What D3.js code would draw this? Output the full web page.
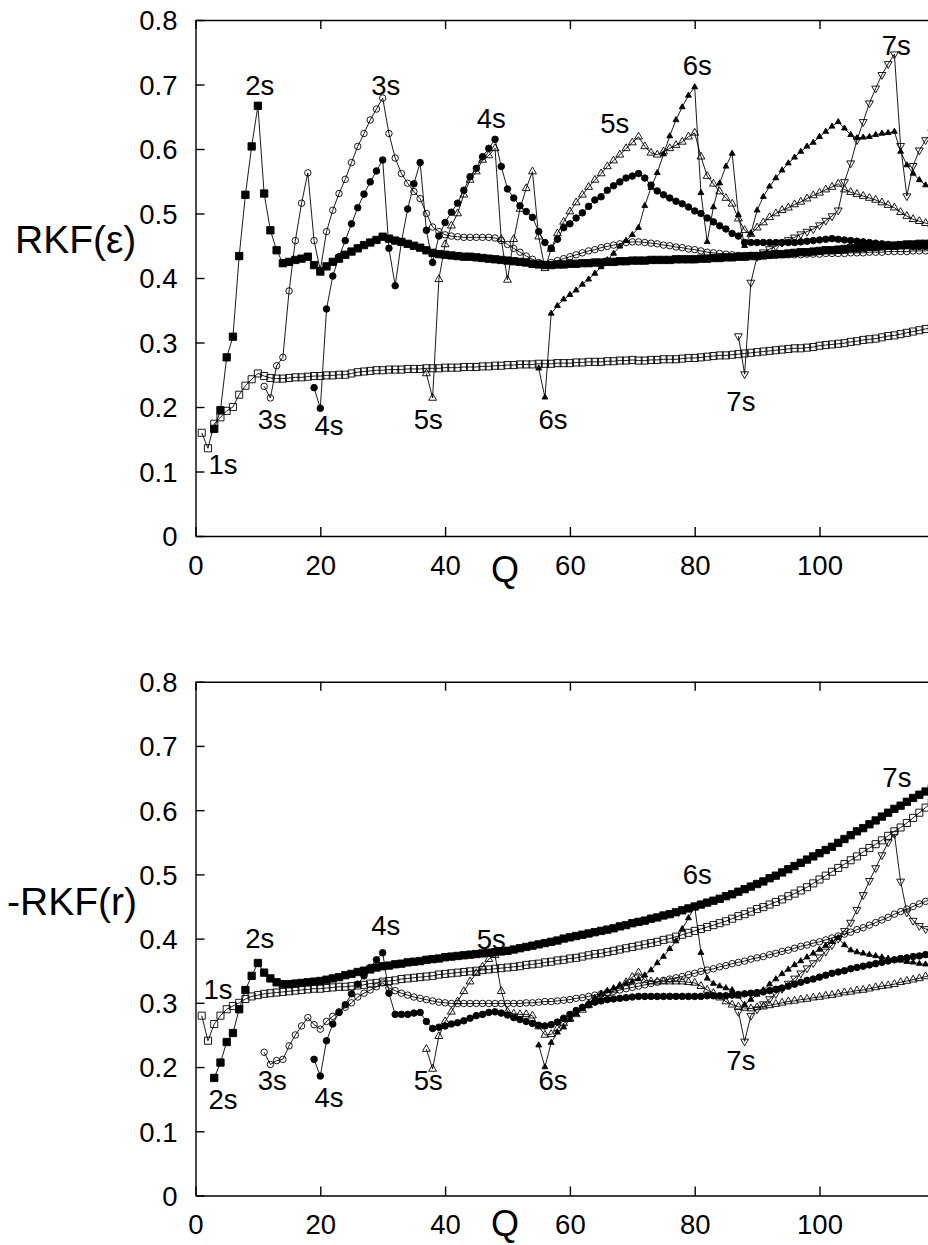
<!DOCTYPE html>
<html>
<head>
<meta charset="utf-8">
<script src="https://cdn.jsdelivr.net/npm/d3@7"></script>
<style>
  body { margin: 0; background: #fff; }
  svg { display: block; }
  text { font-family: "Liberation Sans", Arial, Helvetica, sans-serif; fill: #000; }
</style>
</head>
<body>
<div id="chart"></div>
<script>
// ---------- data, one value per integer Q ----------
// upper panel: RKF(eps)
const epsOpenSqStart = 1;
const epsOpenSq = [.160,.136,.174,.184,.194,.200,.219,.233,.243,.252,
  .248,.245,.244,.244,.245,.246,.246,.247,.248,.248,
  .249,.249,.250,.250,.252,.254,.255,.256,.257,.257,
  .258,.258,.258,.259,.259,.259,.260,.260,.260,.261,
  .261,.261,.262,.262,.262,.263,.263,.264,.264,.265,
  .265,.266,.266,.266,.267,.267,.267,.268,.268,.268,
  .269,.269,.270,.270,.270,.271,.271,.272,.272,.273,
  .272,.272,.273,.273,.274,.274,.274,.275,.276,.276,
  .277,.278,.279,.280,.280,.281,.282,.283,.284,.285,
  .286,.287,.288,.289,.290,.291,.291,.292,.293,.295,
  .296,.297,.298,.299,.301,.302,.304,.305,.306,.308,
  .310,.311,.313,.315,.317,.319,.321,.323];

const epsFillSqStart = 3;
const epsFillSq = [.166,.195,.277,.309,.434,.529,.604,.667,
  .531,.474,.443,.423,.425,.428,.430,.433,.420,.410,
  .418,.425,.430,.436,.441,.446,.451,.455,.459,.464,
  .461,.458,.456,.453,.450,.447,.443,.439,.437,.436,
  .435,.434,.433,.433,.432,.431,.430,.429,.428,.427,
  .426,.425,.424,.422,.421,.420,.420,.421,.421,.422,
  .422,.423,.423,.424,.424,.425,.425,.426,.426,.427,
  .427,.427,.428,.428,.428,.428,.429,.429,.429,.429,
  .430,.430,.431,.431,.432,.432,.433,.433,.434,.434,
  .435,.436,.437,.437,.438,.439,.440,.440,.441,.442,
  .443,.443,.444,.445,.446,.446,.447,.448,.448,.449,
  .450,.450,.451,.452,.452,.453,.453,.454];

const epsOpenCircStart = 11;
const epsOpenCirc = [.232,.214,.264,.277,.380,.458,.516,.563,.458,.412,
  .472,.505,.531,.553,.579,.604,.624,.645,.662,.679,
  .624,.586,.562,.547,.534,.523,.500,.479,.472,.467,
  .465,.464,.463,.463,.463,.463,.463,.462,.458,.452,
  .446,.440,.434,.429,.424,.421,.424,.427,.430,.433,
  .436,.439,.442,.444,.447,.449,.451,.453,.455,.456,
  .456,.455,.454,.453,.451,.450,.448,.447,.445,.444,
  .442,.440,.439,.438,.437,.436,.435,.435,.435,.435,
  .435,.435,.435,.436,.436,.436,.436,.437,.437,.437,
  .438,.438,.438,.438,.439,.439,.439,.440,.440,.440,
  .441,.441,.441,.441,.442,.442,.442,.443];

const epsFillCircStart = 19;
const epsFillCirc = [.230,.198,
  .352,.403,.433,.458,.484,.509,.530,.549,.566,.583,
  .446,.388,.456,.507,.546,.579,.474,.424,.465,.486,
  .502,.516,.536,.557,.570,.588,.601,.615,.573,.538,
  .524,.512,.503,.494,.472,.455,.446,.460,.478,.484,
  .493,.501,.511,.521,.526,.536,.543,.549,.555,.558,
  .562,.555,.544,.535,.529,.524,.519,.515,.510,.504,
  .500,.493,.487,.481,.476,.469,.465,.455,.455,.455,
  .455,.455,.455,.455,.455,.455,.456,.457,.458,.459,
  .460,.461,.460,.459,.458,.457,.456,.455,.454,.453,
  .452,.451,.450,.450,.449,.449,.449,.449];

const epsOpenTriStart = 37;
const epsOpenTri = [.252,.214,.398,.452,
  .481,.500,.529,.552,.565,.583,.590,.601,.460,.397,
  .460,.507,.539,.565,.464,.415,.445,.469,.487,.503,
  .517,.529,.541,.552,.562,.573,.582,.591,.601,.610,
  .619,.604,.594,.591,.596,.601,.606,.611,.619,.625,
  .588,.558,.546,.534,.524,.515,.492,.474,.468,.478,
  .486,.494,.500,.505,.509,.514,.518,.523,.528,.532,
  .537,.541,.546,.537,.533,.530,.527,.524,.521,.517,
  .513,.509,.502,.496,.491,.488,.485,.483];

const epsFillTriStart = 55;
const epsFillTri = [.260,.215,.345,.357,.367,.374,
  .381,.390,.398,.407,.417,.428,.438,.449,.458,.467,
  .478,.512,.540,.563,.592,.620,.645,.665,.683,.696,
  .532,.456,.510,.547,.573,.593,.498,.450,.469,.505,
  .526,.542,.555,.567,.578,.587,.596,.604,.610,.619,
  .627,.635,.642,.632,.622,.617,.618,.619,.622,.624,
  .625,.627,.596,.575,.562,.552,.544,.537];

const epsDownTriStart = 87;
const epsDownTri = [.310,.251,.393,.433,
  .440,.445,.449,.455,.459,.463,.468,.472,.476,.482,
  .489,.496,.505,.549,.578,.614,.642,.671,.694,.715,
  .732,.747,.605,.527,.574,.598,.614,.626];

// lower panel: -RKF(r)
const rOpenSqStart = 1;
const rOpenSq = [.280,.241,.267,.280,.290,.295,.300,.306,.310,.312,
  .314,.315,.316,.317,.318,.319,.320,.321,.322,.322,
  .323,.324,.325,.325,.326,.327,.328,.330,.331,.333,
  .334,.335,.337,.338,.339,.340,.341,.342,.344,.345,
  .346,.347,.348,.349,.350,.351,.352,.353,.354,.355,
  .356,.357,.359,.360,.361,.363,.364,.366,.367,.369,
  .370,.372,.374,.376,.377,.379,.381,.383,.385,.387,
  .389,.391,.393,.395,.398,.400,.403,.406,.409,.412,
  .415,.418,.421,.424,.427,.431,.435,.438,.442,.446,
  .449,.453,.457,.461,.466,.470,.475,.480,.486,.492,
  .498,.504,.510,.516,.522,.528,.535,.541,.547,.553,
  .560,.567,.573,.580,.588,.596,.604,.612];

const rFillSqStart = 3;
const rFillSq = [.183,.207,.239,.253,.290,.320,.342,.362,
  .347,.338,.332,.329,.329,.330,.331,.332,.333,.334,
  .336,.338,.340,.343,.345,.348,.350,.352,.355,.357,
  .358,.360,.361,.363,.364,.365,.367,.368,.369,.371,
  .372,.373,.374,.375,.376,.377,.378,.379,.380,.381,
  .383,.385,.387,.389,.391,.393,.395,.397,.400,.402,
  .404,.406,.408,.410,.412,.414,.416,.419,.421,.424,
  .426,.428,.431,.433,.436,.438,.441,.444,.447,.450,
  .453,.456,.459,.462,.466,.469,.473,.477,.481,.485,
  .489,.494,.498,.503,.508,.513,.518,.523,.528,.533,
  .538,.543,.549,.555,.561,.567,.572,.578,.584,.590,
  .596,.602,.607,.613,.619,.624,.629,.634];

const rOpenCircStart = 11;
const rOpenCirc = [.223,.204,.210,.212,.233,.250,.264,.277,.266,.259,
  .271,.279,.286,.293,.300,.309,.315,.320,.325,.331,
  .323,.319,.315,.312,.309,.307,.305,.303,.301,.300,
  .299,.299,.299,.299,.299,.299,.299,.299,.299,.299,
  .299,.299,.300,.300,.301,.302,.302,.303,.304,.305,
  .307,.308,.310,.312,.314,.316,.318,.320,.322,.324,
  .326,.328,.330,.332,.335,.337,.339,.341,.344,.346,
  .349,.351,.353,.356,.358,.361,.363,.365,.368,.370,
  .372,.375,.377,.380,.382,.385,.388,.390,.393,.395,
  .398,.401,.404,.407,.410,.414,.417,.421,.425,.429,
  .433,.438,.442,.446,.450,.454,.458,.461];

const rFillCircStart = 19;
const rFillCirc = [.212,.186,
  .241,.267,.285,.297,.314,.329,.342,.355,.367,.378,
  .315,.282,.282,.282,.284,.285,.271,.260,.262,.264,
  .267,.269,.272,.276,.280,.282,.285,.286,.284,.281,
  .277,.274,.271,.268,.265,.264,.266,.270,.276,.282,
  .288,.293,.297,.301,.303,.305,.306,.307,.308,.309,
  .310,.310,.310,.310,.310,.310,.310,.310,.310,.310,
  .310,.311,.311,.311,.311,.312,.313,.314,.315,.316,
  .317,.319,.321,.323,.326,.329,.332,.335,.337,.340,
  .343,.346,.348,.350,.353,.355,.357,.359,.361,.363,
  .365,.367,.369,.370,.372,.373,.375,.376];

const rOpenTriStart = 37;
const rOpenTri = [.228,.197,.248,.271,
  .286,.302,.318,.333,.346,.356,.368,.374,.318,.286,
  .283,.282,.282,.280,.263,.250,.251,.260,.268,.275,
  .282,.289,.296,.303,.309,.315,.320,.326,.332,.340,
  .347,.335,.333,.333,.333,.333,.333,.333,.332,.331,
  .326,.320,.315,.308,.302,.297,.294,.292,.291,.293,
  .294,.296,.298,.300,.302,.303,.305,.306,.308,.309,
  .311,.312,.314,.316,.317,.319,.320,.322,.324,.326,
  .327,.329,.332,.334,.336,.338,.341,.343];

const rFillTriStart = 55;
const rFillTri = [.234,.200,.238,.254,.262,.274,
  .283,.291,.300,.308,.314,.319,.323,.327,.330,.333,
  .337,.343,.351,.362,.372,.384,.396,.415,.432,.450,
  .378,.338,.330,.326,.323,.320,.310,.297,.305,.313,
  .320,.329,.337,.345,.352,.359,.365,.371,.377,.383,
  .389,.395,.401,.390,.382,.379,.377,.375,.373,.371,
  .369,.367,.366,.364,.363,.361,.360,.359];

const rDownTriStart = 87;
const rDownTri = [.286,.240,.280,.290,
  .298,.306,.314,.322,.330,.338,.346,.354,.362,.371,
  .380,.390,.400,.412,.425,.445,.468,.490,.510,.530,
  .550,.563,.489,.441,.428,.420,.415,.412];

// shell labels: [text, Q, value]
const epsLabels = [["1s",4.4,.096],["2s",10.3,.684],["3s",30.5,.684],["4s",47.4,.633],
  ["3s",12.3,.166],["4s",21.4,.157],["5s",37.3,.166],["5s",67.2,.625],
  ["6s",80.4,.715],["7s",112.3,.746],["6s",57.3,.166],["7s",87.4,.194]];
const rLabels = [["1s",3.6,.306],["2s",10.3,.386],["2s",4.4,.135],["3s",12.3,.164],
  ["4s",21.4,.138],["4s",30.5,.406],["5s",47.4,.384],["5s",37.3,.164],
  ["6s",80.4,.485],["6s",57.3,.164],["7s",87.4,.196],["7s",112.4,.636]];

const xTicks = [0, 20, 40, 60, 80, 100];
const yTicks = [0, 0.1, 0.2, 0.3, 0.4, 0.5, 0.6, 0.7, 0.8];

// ---------- drawing ----------
const W = 928, H = 1245;
const svg = d3.select("#chart").append("svg")
  .attr("width", W).attr("height", H)
  .attr("viewBox", [0, 0, W, H]);

const x = d3.scaleLinear().domain([0, 120]).range([195.5, 195.5 + 120 * 6.24]);

// marker look per series kind
const kinds = {
  openSq:   {type: d3.symbolSquare,   size: 50, fill: "none", rot: 0},
  fillSq:   {type: d3.symbolSquare,   size: 54, fill: "#000", rot: 0},
  openCirc: {type: d3.symbolCircle,   size: 33, fill: "none", rot: 0},
  fillCirc: {type: d3.symbolCircle,   size: 34, fill: "#000", rot: 0},
  openTri:  {type: d3.symbolTriangle, size: 27, fill: "none", rot: 0},
  fillTri:  {type: d3.symbolTriangle, size: 15, fill: "#000", rot: 0},
  downTri:  {type: d3.symbolTriangle, size: 27, fill: "none", rot: 180}
};

function toPoints(start, vals) {
  return vals.map((v, i) => ({q: start + i, v: v}));
}

const panels = [
  {top: 20, bottom: 536, qy: 582, ylabel: "RKF(\u03b5)", ylx: 15, yly: 253, labels: epsLabels,
   series: [
     ["openSq", epsOpenSqStart, epsOpenSq], ["fillSq", epsFillSqStart, epsFillSq],
     ["openCirc", epsOpenCircStart, epsOpenCirc], ["fillCirc", epsFillCircStart, epsFillCirc],
     ["openTri", epsOpenTriStart, epsOpenTri], ["fillTri", epsFillTriStart, epsFillTri],
     ["downTri", epsDownTriStart, epsDownTri]]},
  {top: 681.7, bottom: 1195.5, qy: 1236, ylabel: "-RKF(r)", ylx: 7, yly: 915, labels: rLabels,
   series: [
     ["openSq", rOpenSqStart, rOpenSq], ["fillSq", rFillSqStart, rFillSq],
     ["openCirc", rOpenCircStart, rOpenCirc], ["fillCirc", rFillCircStart, rFillCirc],
     ["openTri", rOpenTriStart, rOpenTri], ["fillTri", rFillTriStart, rFillTri],
     ["downTri", rDownTriStart, rDownTri]]}
];

panels.forEach(p => {
  const y = d3.scaleLinear().domain([0, 0.8]).range([p.bottom, p.top]);
  const g = svg.append("g");

  // axes, ticks inward
  const xb = g.append("g")
    .attr("transform", `translate(0,${p.bottom})`)
    .call(d3.axisBottom(x).tickValues(xTicks.concat([120])).tickSizeInner(-9).tickSizeOuter(0)
      .tickPadding(19).tickFormat(d => d === 120 ? "" : d));
  const xt = g.append("g")
    .attr("transform", `translate(0,${p.top})`)
    .call(d3.axisTop(x).tickValues(xTicks.concat([120])).tickSizeInner(-9).tickSizeOuter(0)
      .tickFormat(""));
  const yl = g.append("g")
    .attr("transform", `translate(${x(0)},0)`)
    .call(d3.axisLeft(y).tickValues(yTicks).tickSizeInner(-9).tickSizeOuter(0)
      .tickPadding(18).tickFormat(d => d === 0 ? "0" : d.toFixed(1)));

  [xb, xt, yl].forEach(a => {
    a.selectAll("path, line").attr("stroke", "#000").attr("stroke-width", 1.4);
    a.selectAll("text").attr("font-size", 27.5).attr("font-family", null);
  });
  yl.selectAll("text").attr("dy", "0.36em");

  // series: thin line + markers
  p.series.forEach(([kind, start, vals]) => {
    const k = kinds[kind];
    const pts = toPoints(start, vals);
    const line = d3.line().x(d => x(d.q)).y(d => y(d.v));
    g.append("path")
      .datum(pts)
      .attr("d", line)
      .attr("fill", "none")
      .attr("stroke", "#000")
      .attr("stroke-width", 0.9);
    g.append("g").selectAll("path")
      .data(pts)
      .join("path")
      .attr("d", d3.symbol().type(k.type).size(k.size))
      .attr("transform", d => `translate(${x(d.q)},${y(d.v)}) rotate(${k.rot})`)
      .attr("fill", k.fill)
      .attr("stroke", "#000")
      .attr("stroke-width", 0.9);
  });

  // shell labels
  g.append("g").selectAll("text")
    .data(p.labels)
    .join("text")
    .attr("x", d => x(d[1]))
    .attr("y", d => y(d[2]))
    .attr("text-anchor", "middle")
    .attr("font-size", 27.5)
    .text(d => d[0]);

  // axis titles
  g.append("text")
    .attr("x", 505).attr("y", p.qy)
    .attr("text-anchor", "middle")
    .attr("font-size", 36)
    .text("Q");
  g.append("text")
    .attr("x", p.ylx).attr("y", p.yly)
    .attr("font-size", 39)
    .text(p.ylabel);
});
</script>
</body>
</html>
